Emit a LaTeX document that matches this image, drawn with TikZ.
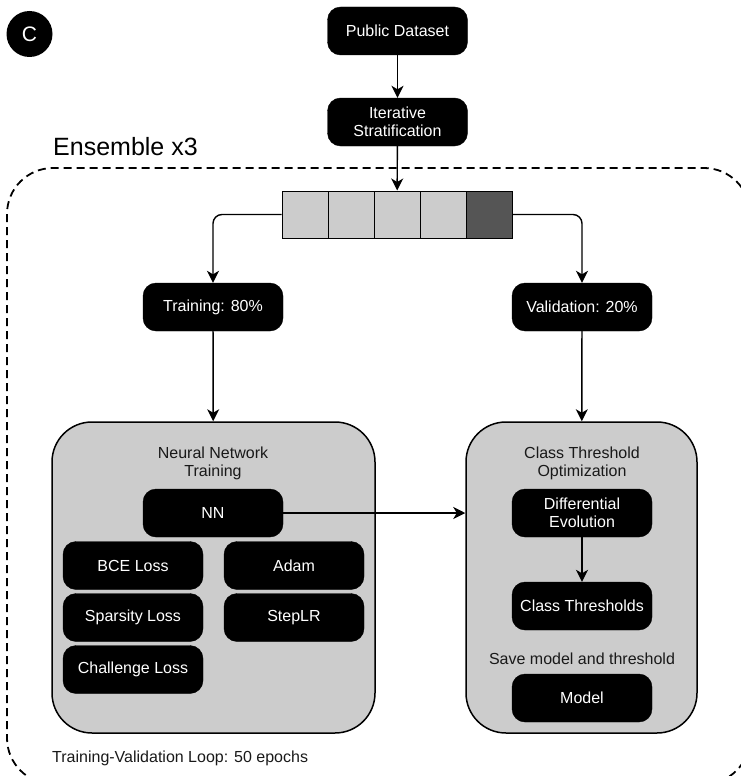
\documentclass[tikz,border=0pt]{standalone}
\usepackage{fontspec}
\setmainfont{Liberation Sans}
\usetikzlibrary{arrows.meta}
\begin{document}
\begin{tikzpicture}[x=1pt,y=-1pt,
  blk/.style={draw=black,fill=black,text=white,rounded corners=13pt,minimum width=140pt,minimum height=48pt,inner sep=0pt,align=center,font=\fontsize{16}{18}\selectfont},
  cell/.style={draw=black,line width=1pt,minimum width=46pt,minimum height=47pt,inner sep=0pt},
  panel/.style={draw=black,fill=lightg,line width=1.5pt,rounded corners=40pt,inner sep=0pt},
  lbl/.style={align=center,text=black!90,font=\fontsize{16}{18}\selectfont,inner sep=0pt},
  arr/.style={line width=1.4pt,-{Stealth[length=12pt,width=12pt,inset=3.5pt]}},
  ln/.style={line width=1.4pt}
]
\definecolor{lightg}{HTML}{CCCCCC}
\definecolor{darkg}{HTML}{555555}
\useasboundingbox (0,0) rectangle (740,776);

% ensemble dashed frame
\draw[line width=1.8pt,dash pattern=on 8pt off 5pt,rounded corners=46pt] (7,168) rectangle (750,784);
\node[anchor=base west,inner sep=0pt,font=\fontsize{25}{28}\selectfont] (ens) at (53,155) {Ensemble x3};

% label C
\node[circle,fill=black,text=white,minimum size=46pt,inner sep=0pt,font=\fontsize{21}{23}\selectfont] (lc) at (29.5,34) {C};

% top flow
\node[blk] (pub) at (397.5,31) {Public Dataset};
\node[blk] (iter) at (397.5,122) {Iterative\\Stratification};

% bar
\node[cell,fill=lightg] (c1) at (305,214.5) {};
\node[cell,fill=lightg] (c2) at (351,214.5) {};
\node[cell,fill=lightg] (c3) at (397,214.5) {};
\node[cell,fill=lightg] (c4) at (443,214.5) {};
\node[cell,fill=darkg] (c5) at (489,214.5) {};

\draw[arr] (pub) -- (iter);
\draw[arr] (iter) -- (c3);

% split
\node[blk] (train) at (213,307) {Training: 80\%};
\node[blk] (val) at (582,307) {Validation: 20\%};
\draw[arr,rounded corners=9pt] (c1.west) -| (train.north);
\draw[arr,rounded corners=9pt] (c5.east) -| (val.north);

% panels
\node[panel,minimum width=323pt,minimum height=311pt] (nnp) at (213.5,577.5) {};
\node[panel,minimum width=231pt,minimum height=311pt] (ctp) at (581.5,577.5) {};
\draw[arr] (train) -- (nnp);
\draw[arr] (val) -- (ctp);

% left panel contents
\node[lbl] (nnt) at (213,463) {Neural Network\\Training};
\node[blk] (nn) at (213,513) {NN};
\node[blk] (bce) at (133,565.5) {BCE Loss};
\node[blk] (spl) at (133,617.5) {Sparsity Loss};
\node[blk] (chl) at (133,669.5) {Challenge Loss};
\node[blk] (adam) at (294,565.5) {Adam};
\node[blk] (slr) at (294,617.5) {StepLR};

% right panel contents
\node[lbl] (ctt) at (582,463) {Class Threshold\\Optimization};
\node[blk] (de) at (582,513) {Differential\\Evolution};
\node[blk] (cth) at (582,606) {Class Thresholds};
\node[lbl] (save) at (582,659) {Save model and threshold};
\node[blk] (model) at (582,698) {Model};
\draw[arr] (de) -- (cth);

\draw[arr] (nn.east) -- (ctp.west |- nn.east);

\node[lbl,anchor=base west] (loop) at (52,762) {Training-Validation Loop: 50 epochs};
\end{tikzpicture}
\end{document}
